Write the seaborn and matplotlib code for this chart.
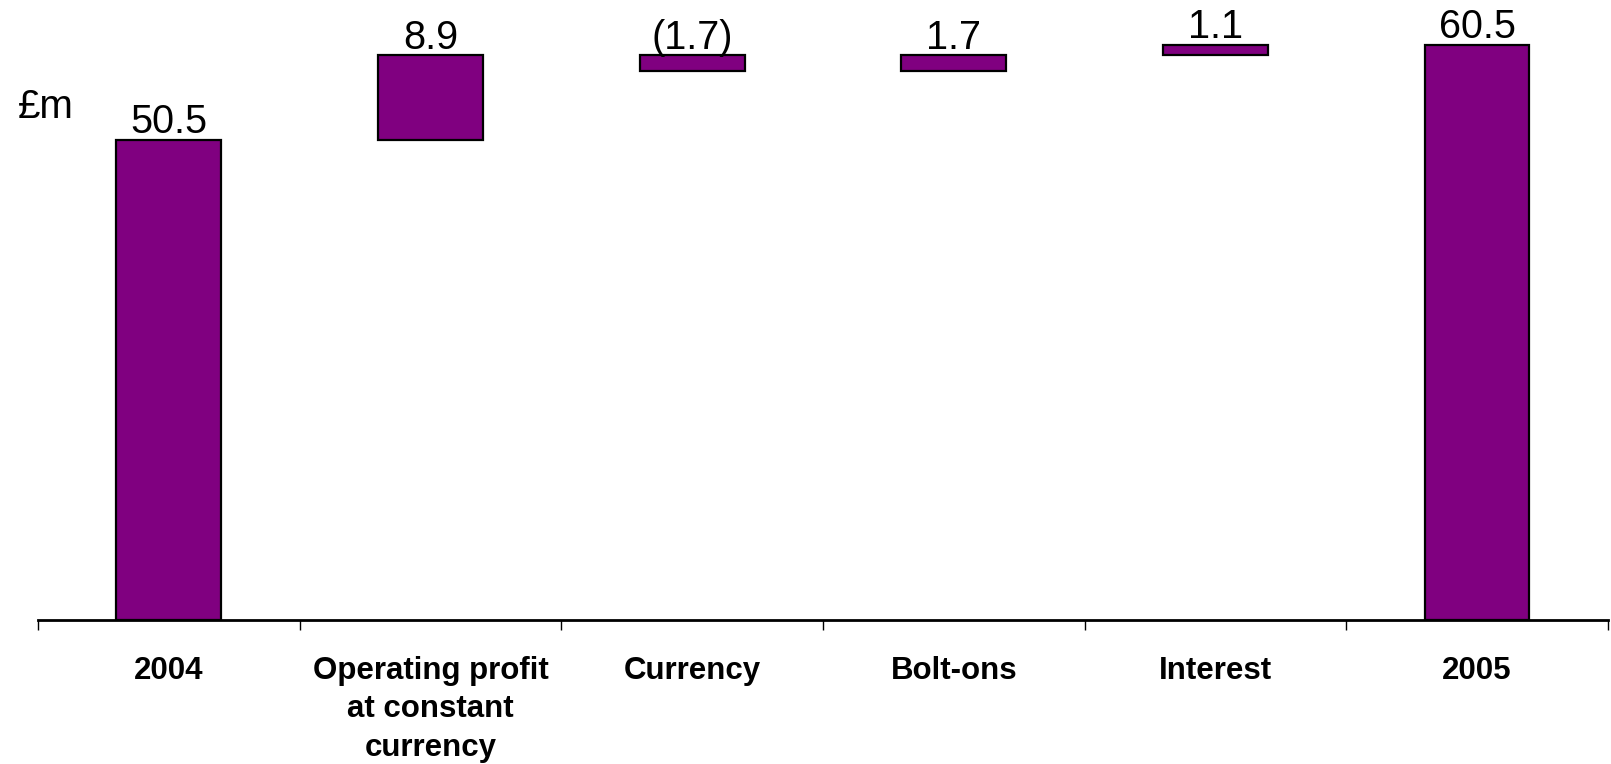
import numpy as np
import pandas as pd
import matplotlib
matplotlib.use("Agg")
import matplotlib.pyplot as plt
import seaborn as sns

# ---- data ----
categories = ["2004", "Operating profit\nat constant\ncurrency", "Currency", "Bolt-ons", "Interest", "2005"]
values = [50.5, 8.9, -1.7, 1.7, 1.1, 60.5]
is_total = [True, False, False, False, False, True]
value_labels = ["50.5", "8.9", "(1.7)", "1.7", "1.1", "60.5"]
unit_label = "£m"

# waterfall bottoms computed from the values
bottoms = []
running = 0.0
for v, t in zip(values, is_total):
    if t:
        bottoms.append(0.0)
        running = v
    else:
        bottoms.append(running)
        running += v

sns.set_theme(style="white")
plt.rcParams["font.family"] = ["Liberation Sans", "DejaVu Sans"]

W, H = 1611, 764
fig = plt.figure(figsize=(W / 100, H / 100), dpi=100)
ax = fig.add_axes([38 / W, 1 - 619.5 / H, (1608 - 38) / W, 619.5 / H])

df = pd.DataFrame({"cat": categories, "val": values})
sns.barplot(data=df, x="cat", y="val", order=categories, color="#800080",
            width=0.4, bottom=bottoms, edgecolor="black", linewidth=1.6,
            saturation=1, ax=ax, errorbar=None)

ax.set_ylim(0, 65.2)
ax.set_xlim(-0.5, len(categories) - 0.5)

# value labels
for i, (v, b, lab) in enumerate(zip(values, bottoms, value_labels)):
    top = max(b, b + v)
    ax.annotate(lab, (i, top), xytext=(0, 4.5), textcoords="offset points",
                ha="center", va="baseline", fontsize=28.5, color="black")

# spines and ticks
for s in ["top", "right", "left"]:
    ax.spines[s].set_visible(False)
ax.spines["bottom"].set_color("black")
ax.spines["bottom"].set_linewidth(2.0)
ax.set_yticks([])
ax.set_xticks(np.arange(-0.5, len(categories), 1.0))
ax.set_xticklabels([])
ax.tick_params(axis="x", which="major", direction="out", length=7, width=1.0,
               color="black", bottom=True)
ax.set_xticks(np.arange(len(categories)), minor=True)
ax.set_xticklabels(categories, minor=True, fontsize=22.5, fontweight="bold",
                   color="black", linespacing=1.38)
ax.tick_params(axis="x", which="minor", length=0, pad=26)
ax.set_xlabel("")
ax.set_ylabel("")

fig.text(18 / W, 1 - 107 / H, unit_label, fontsize=29, ha="left", va="center", color="black")

fig.savefig("out.png", dpi=100)
